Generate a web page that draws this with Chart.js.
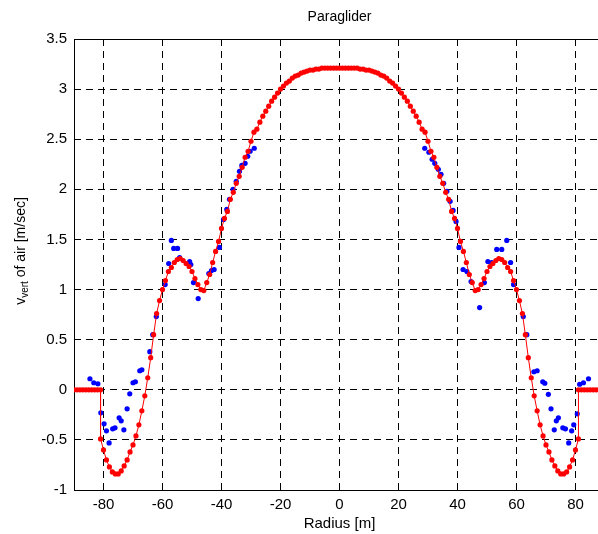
<!DOCTYPE html>
<html>
<head>
<meta charset="utf-8">
<script src="https://cdn.jsdelivr.net/npm/chart.js@4.4.1/dist/chart.umd.min.js"></script>
<style>
html, body { margin: 0; padding: 0; background: #fff; overflow: hidden; }
#wrap { width: 620px; height: 534px; }
</style>
</head>
<body>
<div id="wrap"><canvas id="chart" width="620" height="534" style="width:620px;height:534px"></canvas></div>
<script>
// axis ticks
const xTicks = [-80, -60, -40, -20, 0, 20, 40, 60, 80];
const yTicks = [-1, -0.5, 0, 0.5, 1, 1.5, 2, 2.5, 3, 3.5];

// red fitted profile (line + dots)
const fitX = [-90, -89, -88, -87, -86, -85, -84, -83, -82, -81, -81,
  -80, -79, -78, -77, -76, -75, -74, -73, -72, -71, -70, -69, -68, -67, -66, -65, -64, -63, -62, -61,
  -60, -59, -58, -57, -56, -55, -54, -53, -52, -51, -50, -49, -48, -47, -46, -45, -44, -43, -42, -41,
  -40, -39, -38, -37, -36, -35, -34, -33, -32, -31, -30, -29, -28, -27, -26, -25, -24, -23, -22, -21,
  -20, -19, -18, -17, -16, -15, -14, -13, -12, -11, -10, -9, -8, -7, -6, -5, -4, -3, -2, -1,
  0, 1, 2, 3, 4, 5, 6, 7, 8, 9, 10, 11, 12, 13, 14, 15, 16, 17, 18, 19,
  20, 21, 22, 23, 24, 25, 26, 27, 28, 29, 30, 31, 32, 33, 34, 35, 36, 37, 38, 39,
  40, 41, 42, 43, 44, 45, 46, 47, 48, 49, 50, 51, 52, 53, 54, 55, 56, 57, 58, 59,
  60, 61, 62, 63, 64, 65, 66, 67, 68, 69, 70, 71, 72, 73, 74, 75, 76, 77, 78, 79,
  80, 81, 81, 82, 83, 84, 85, 86, 87, 88, 89, 90];
const fitY = [0, 0, 0, 0, 0, 0, 0, 0, 0, 0, -0.49,
  -0.60, -0.70, -0.77, -0.82, -0.84, -0.84, -0.81, -0.76, -0.70, -0.62, -0.55, -0.46, -0.35, -0.21, -0.06, 0.12, 0.32, 0.55, 0.76, 0.89,
  1.00, 1.09, 1.18, 1.22, 1.27, 1.30, 1.31, 1.29, 1.26, 1.23, 1.18, 1.11, 1.05, 1.00, 0.99, 1.07, 1.15, 1.27, 1.38, 1.48,
  1.61, 1.71, 1.78, 1.90, 1.97, 2.06, 2.13, 2.22, 2.32, 2.38, 2.48, 2.57, 2.60, 2.67, 2.73, 2.78, 2.83, 2.88, 2.92, 2.96,
  3.00, 3.03, 3.06, 3.08, 3.11, 3.13, 3.14, 3.16, 3.17, 3.18, 3.19, 3.19, 3.20, 3.20, 3.21, 3.21, 3.21, 3.21, 3.21, 3.21,
  3.21, 3.21, 3.21, 3.21, 3.21, 3.21, 3.21, 3.20, 3.20, 3.19, 3.19, 3.18, 3.17, 3.16, 3.14, 3.13, 3.11, 3.08, 3.06, 3.03,
  3.00, 2.96, 2.92, 2.88, 2.83, 2.78, 2.73, 2.67, 2.60, 2.57, 2.48, 2.38, 2.32, 2.22, 2.13, 2.06, 1.97, 1.90, 1.78, 1.71,
  1.61, 1.48, 1.38, 1.27, 1.15, 1.07, 0.99, 1.00, 1.05, 1.11, 1.18, 1.23, 1.26, 1.29, 1.31, 1.30, 1.27, 1.22, 1.18, 1.09,
  1.00, 0.89, 0.76, 0.55, 0.32, 0.12, -0.06, -0.21, -0.35, -0.46, -0.55, -0.62, -0.70, -0.76, -0.81, -0.84, -0.84, -0.82, -0.77, -0.70,
  -0.60, -0.49, 0, 0, 0, 0, 0, 0, 0, 0, 0, 0];

// blue measured points
const measX = [-84.6, -83.3, -81.9, -80.9, -79.8, -79.0, -78.1, -76.9, -76.1, -74.7, -74.0, -73.1, -72.0, -71.1, -70.0, -69.2,
  -67.7, -67.0, -64.3, -63.3, -62.1, -59.1, -57.9, -57.0, -56.2, -54.9, -54.2, -50.8, -50.4, -49.5, -47.9, -44.3, -43.4, -42.5,
  -40.7, -39.3, -38.2, -37.3, -36.1, -35.0, -33.9, -33.1, -32.0, -31.1, -30.3, -28.9,
  28.9, 30.3, 31.4, 32.3, 33.5, 34.4, 35.3, 36.4, 37.5, 38.5, 39.5, 40.5, 41.9, 43.2, 44.6, 47.5, 49.1, 50.3, 51.6,
  53.3, 55.0, 56.7, 58.0, 59.0, 62.3, 63.5, 65.9, 67.0, 68.9, 69.6, 70.8, 71.7, 72.8, 73.5, 74.2, 75.7, 76.6, 77.7,
  78.7, 79.4, 80.6, 81.4, 82.7, 84.4];
const measY = [0.11, 0.07, 0.06, -0.23, -0.34, -0.41, -0.53, -0.39, -0.38, -0.28, -0.31, -0.40, -0.19, -0.04, 0.07, 0.08,
  0.19, 0.20, 0.38, 0.55, 0.73, 1.05, 1.26, 1.49, 1.41, 1.41, 1.32, 1.28, 1.25, 1.07, 0.91, 1.16, 1.19, 1.20,
  1.42, 1.70, 1.80, 1.90, 2.00, 2.08, 2.18, 2.24, 2.26, 2.33, 2.38, 2.41,
  2.41, 2.37, 2.30, 2.26, 2.20, 2.15, 2.06, 1.98, 1.88, 1.79, 1.68, 1.42, 1.20, 1.18, 1.08, 0.82, 1.07, 1.28, 1.27,
  1.40, 1.40, 1.49, 1.27, 1.05, 0.73, 0.55, 0.18, 0.19, 0.08, 0.065, -0.045, -0.19, -0.40, -0.31, -0.28, -0.38, -0.39, -0.53,
  -0.41, -0.35, -0.24, 0.055, 0.07, 0.11];

const FONT = '"Liberation Sans", Arial, Helvetica, sans-serif';

// box, title and axis labels in the MATLAB look
const axesDecor = {
  id: 'axesDecor',
  beforeDatasetsDraw(chart) {
    const { ctx, chartArea: a } = chart;
    ctx.save();
    ctx.strokeStyle = '#000';
    ctx.lineWidth = 1;
    ctx.setLineDash([]);
    ctx.strokeRect(Math.round(a.left) + 0.5, Math.round(a.top) + 0.5,
      Math.round(a.right - a.left), Math.round(a.bottom - a.top));
    ctx.restore();
  },
  afterDraw(chart) {
    const { ctx, chartArea: a } = chart;
    const cx = (a.left + a.right) / 2;
    ctx.save();
    ctx.fillStyle = '#000';
    ctx.textAlign = 'center';
    ctx.textBaseline = 'middle';
    ctx.font = '14px ' + FONT;
    ctx.fillText('Paraglider', cx, 17);
    ctx.font = '15px ' + FONT;
    ctx.fillText('Radius [m]', cx, 524);

    // y label with subscript
    ctx.translate(21.5, 251);
    ctx.rotate(-Math.PI / 2);
    ctx.textAlign = 'left';
    const big = '14px ' + FONT, small = '10px ' + FONT;
    ctx.font = big;
    const w1 = ctx.measureText('v').width;
    const w3 = ctx.measureText(' of air [m/sec]').width;
    ctx.font = small;
    const w2 = ctx.measureText('vert').width;
    let u = -(w1 + w2 + w3) / 2;
    ctx.font = big;
    ctx.fillText('v', u, 0);
    u += w1;
    ctx.font = small;
    ctx.fillText('vert', u, 4);
    u += w2;
    ctx.font = big;
    ctx.fillText(' of air [m/sec]', u, 0);
    ctx.restore();
  }
};

const ctx = document.getElementById('chart');
new Chart(ctx, {
  type: 'scatter',
  data: {
    datasets: [{
      label: 'fit',
      data: fitX.map((x, i) => ({ x, y: fitY[i] })),
      showLine: true,
      borderColor: '#ff0000',
      backgroundColor: '#ff0000',
      borderWidth: 1,
      pointRadius: 2.6,
      pointBorderWidth: 0,
      tension: 0,
      order: 0
    }, {
      label: 'measured',
      data: measX.map((x, i) => ({ x, y: measY[i] })),
      backgroundColor: '#0000ff',
      borderColor: '#0000ff',
      pointRadius: 2.6,
      pointBorderWidth: 0,
      order: 1
    }]
  },
  options: {
    responsive: false,
    animation: false,
    layout: { padding: { top: 39, right: 15, left: 0, bottom: 0 } },
    plugins: { legend: { display: false }, tooltip: { enabled: false }, title: { display: false } },
    scales: {
      x: {
        type: 'linear',
        min: -90,
        max: 90,
        afterBuildTicks: s => { s.ticks = xTicks.map(v => ({ value: v })); },
        afterFit: s => { s.height = 44; },
        grid: { color: '#000', lineWidth: 1, drawTicks: false },
        border: { display: false, dash: [7, 5] },
        ticks: {
          padding: 6, autoSkip: false, maxRotation: 0, color: '#000',
          font: { family: FONT, size: 15 },
          callback: v => String(v)
        }
      },
      y: {
        type: 'linear',
        min: -1,
        max: 3.5,
        afterBuildTicks: s => { s.ticks = yTicks.map(v => ({ value: v })); },
        afterFit: s => { s.width = 74; },
        grid: { color: '#000', lineWidth: 1, drawTicks: false },
        border: { display: false, dash: [7, 5] },
        ticks: {
          padding: 7, color: '#000',
          font: { family: FONT, size: 15 },
          callback: v => String(v)
        }
      }
    }
  },
  plugins: [axesDecor]
});
</script>
</body>
</html>
